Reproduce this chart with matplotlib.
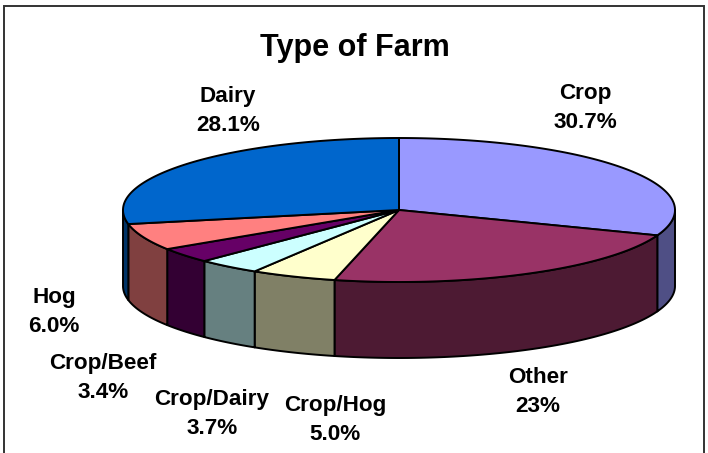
import numpy as np
import matplotlib
matplotlib.use("Agg")
import matplotlib.pyplot as plt
from matplotlib.patches import Polygon, Rectangle

categories = ["Crop", "Other", "Crop/Hog", "Crop/Dairy", "Crop/Beef", "Hog", "Dairy"]
values = [30.7, 23.0, 5.0, 3.7, 3.4, 6.0, 28.1]
value_labels = ["30.7%", "23%", "5.0%", "3.7%", "3.4%", "6.0%", "28.1%"]
top_colors = ["#9999FF", "#993366", "#FFFFCC", "#CCFFFF", "#660066", "#FF8080", "#0066CC"]
side_colors = ["#4F4F85", "#4D1A33", "#808066", "#668080", "#330033", "#804040", "#003366"]
label_pos = [(585, 108), (538, 392), (335, 420), (212, 414), (103, 378), (54, 312), (228, 111)]

W, H = 708, 453
cx, cy, a, b, depth = 399, 210, 276, 72, 76
EDGE = "black"

fig = plt.figure(figsize=(W / 100, H / 100), dpi=100, facecolor="white")
ax = fig.add_axes([0, 0, 1, 1])
ax.set_xlim(0, W)
ax.set_ylim(H, 0)
ax.axis("off")
plt.rcParams["font.family"] = ["Liberation Sans", "DejaVu Sans"]

ax.add_patch(Rectangle((4, 6), 699.5, 460, fc="white", ec="#333333", lw=1.4, zorder=0))


def pts(t0, t1, n=120):
    t = np.linspace(t0, t1, n)
    return np.column_stack([cx + a * np.sin(t), cy - b * np.cos(t)])


fracs = np.array(values) / sum(values)
edges = np.concatenate([[0], np.cumsum(fracs)]) * 2 * np.pi
lw = 1.4

# sides (only the front half, from 90 deg to 270 deg clockwise from top)
for i in range(len(values)):
    t0, t1 = max(edges[i], np.pi / 2), min(edges[i + 1], 3 * np.pi / 2)
    if t1 <= t0:
        continue
    up = pts(t0, t1)
    down = up[::-1] + [0, depth]
    ax.add_patch(Polygon(np.vstack([up, down]), closed=True, fc=side_colors[i],
                         ec=EDGE, lw=lw, joinstyle="round", zorder=2))

# top faces
for i in range(len(values)):
    arc = pts(edges[i], edges[i + 1])
    ax.add_patch(Polygon(np.vstack([[cx, cy], arc]), closed=True, fc=top_colors[i],
                         ec=EDGE, lw=lw, joinstyle="round", zorder=3))

ax.text(354.5, 48, "Type of Farm", ha="center", va="center",
        fontsize=22, fontweight="bold", color="black", zorder=5)
for name, val, (x, y) in zip(categories, value_labels, label_pos):
    ax.text(x, y, f"{name}\n{val}", ha="center", va="center", fontsize=16.2,
            fontweight="bold", color="black", linespacing=1.45, zorder=5)

fig.savefig("out.png", dpi=100, facecolor="white")
